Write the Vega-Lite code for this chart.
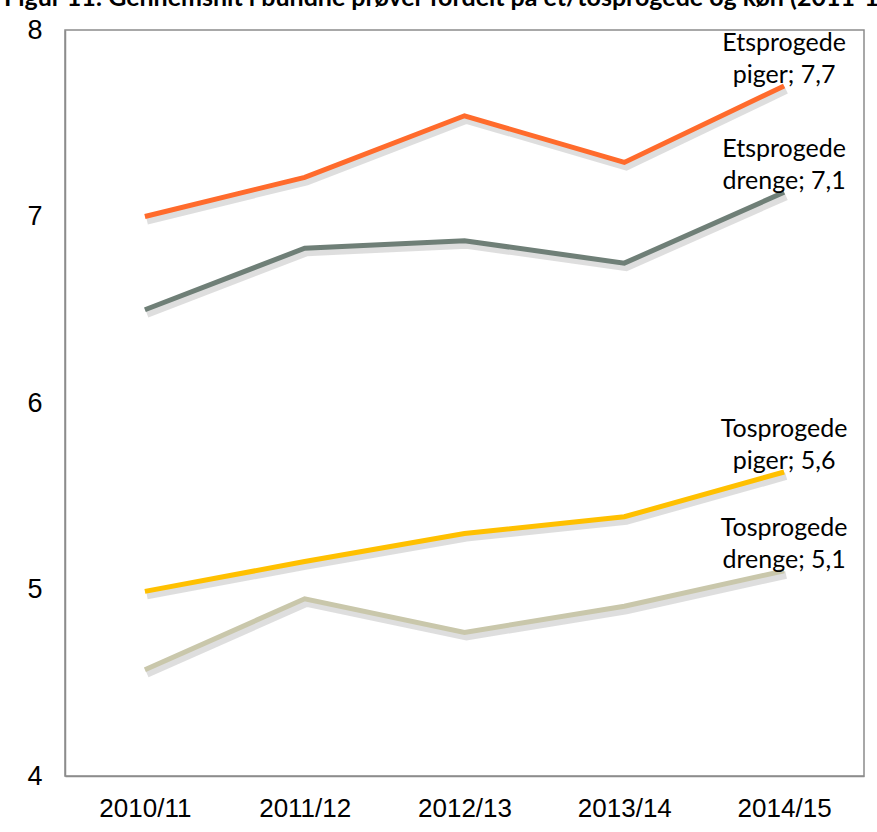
{
  "$schema": "https://vega.github.io/schema/vega-lite/v6.json",
  "width": 799,
  "height": 746,
  "autosize": "none",
  "padding": {"left": 65, "top": 30, "right": 13, "bottom": 56},
  "background": "white",
  "title": {
    "text": "Figur 11: Gennemsnit i bundne prøver fordelt på et/tosprogede og køn (2011-15)",
    "anchor": "start",
    "frame": "group",
    "font": "Lato",
    "fontWeight": "bold",
    "fontSize": 25,
    "color": "#000000",
    "baseline": "bottom",
    "offset": 0,
    "dy": 20,
    "dx": -61
  },
  "config": {
    "view": {"stroke": "#8c8c8c", "strokeWidth": 1.5}
  },
  "data": {
    "values": [
      {"year": "2010/11", "group": "Etsprogede piger", "value": 7.00, "label": "Etsprogede\npiger; 7,7"},
      {"year": "2011/12", "group": "Etsprogede piger", "value": 7.21, "label": "Etsprogede\npiger; 7,7"},
      {"year": "2012/13", "group": "Etsprogede piger", "value": 7.54, "label": "Etsprogede\npiger; 7,7"},
      {"year": "2013/14", "group": "Etsprogede piger", "value": 7.29, "label": "Etsprogede\npiger; 7,7"},
      {"year": "2014/15", "group": "Etsprogede piger", "value": 7.70, "label": "Etsprogede\npiger; 7,7"},
      {"year": "2010/11", "group": "Etsprogede drenge", "value": 6.50, "label": "Etsprogede\ndrenge; 7,1"},
      {"year": "2011/12", "group": "Etsprogede drenge", "value": 6.83, "label": "Etsprogede\ndrenge; 7,1"},
      {"year": "2012/13", "group": "Etsprogede drenge", "value": 6.87, "label": "Etsprogede\ndrenge; 7,1"},
      {"year": "2013/14", "group": "Etsprogede drenge", "value": 6.75, "label": "Etsprogede\ndrenge; 7,1"},
      {"year": "2014/15", "group": "Etsprogede drenge", "value": 7.13, "label": "Etsprogede\ndrenge; 7,1"},
      {"year": "2010/11", "group": "Tosprogede piger", "value": 4.99, "label": "Tosprogede\npiger; 5,6"},
      {"year": "2011/12", "group": "Tosprogede piger", "value": 5.15, "label": "Tosprogede\npiger; 5,6"},
      {"year": "2012/13", "group": "Tosprogede piger", "value": 5.30, "label": "Tosprogede\npiger; 5,6"},
      {"year": "2013/14", "group": "Tosprogede piger", "value": 5.39, "label": "Tosprogede\npiger; 5,6"},
      {"year": "2014/15", "group": "Tosprogede piger", "value": 5.63, "label": "Tosprogede\npiger; 5,6"},
      {"year": "2010/11", "group": "Tosprogede drenge", "value": 4.57, "label": "Tosprogede\ndrenge; 5,1"},
      {"year": "2011/12", "group": "Tosprogede drenge", "value": 4.95, "label": "Tosprogede\ndrenge; 5,1"},
      {"year": "2012/13", "group": "Tosprogede drenge", "value": 4.77, "label": "Tosprogede\ndrenge; 5,1"},
      {"year": "2013/14", "group": "Tosprogede drenge", "value": 4.91, "label": "Tosprogede\ndrenge; 5,1"},
      {"year": "2014/15", "group": "Tosprogede drenge", "value": 5.10, "label": "Tosprogede\ndrenge; 5,1"}
    ]
  },
  "encoding": {
    "x": {
      "field": "year",
      "type": "ordinal",
      "scale": {"type": "point", "padding": 0.5},
      "axis": {
        "title": null,
        "labelAngle": 0,
        "ticks": false,
        "labelPadding": 19,
        "labelFont": "Liberation Sans",
        "labelFontSize": 26,
        "labelColor": "#000000",
        "domainColor": "#8c8c8c",
        "domainWidth": 1.5
      }
    },
    "y": {
      "field": "value",
      "type": "quantitative",
      "scale": {"domain": [4, 8], "nice": false, "zero": false},
      "axis": {
        "title": null,
        "values": [4, 5, 6, 7, 8],
        "grid": false,
        "ticks": false,
        "labelPadding": 23,
        "labelFont": "Liberation Sans",
        "labelFontSize": 27,
        "labelColor": "#000000",
        "domainColor": "#8c8c8c",
        "domainWidth": 1.5
      }
    }
  },
  "layer": [
    {
      "mark": {"type": "line", "strokeWidth": 8, "color": "#b5b5b5", "opacity": 0.45, "yOffset": 4, "xOffset": 2},
      "encoding": {"detail": {"field": "group"}}
    },
    {
      "mark": {"type": "line", "strokeWidth": 5},
      "encoding": {
        "color": {
          "field": "group",
          "type": "nominal",
          "scale": {
            "domain": ["Etsprogede piger", "Etsprogede drenge", "Tosprogede piger", "Tosprogede drenge"],
            "range": ["#FF6B2C", "#6F7F77", "#FFC000", "#C9C7AB"]
          },
          "legend": null
        }
      }
    },
    {
      "transform": [{"filter": "datum.year == '2014/15'"}],
      "mark": {
        "type": "text",
        "lineBreak": "\n",
        "align": "center",
        "baseline": "bottom",
        "font": "Lato",
        "fontSize": 25,
        "lineHeight": 32,
        "dx": 0,
        "dy": -30,
        "color": "#000000"
      },
      "encoding": {"text": {"field": "label"}}
    }
  ]
}
